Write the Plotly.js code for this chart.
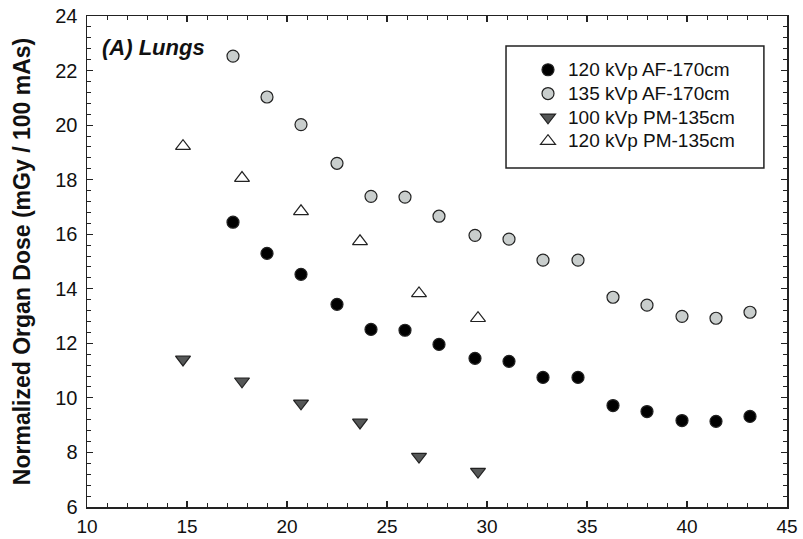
<!DOCTYPE html>
<html>
<head>
<meta charset="utf-8">
<script src="https://cdn.plot.ly/plotly-3.0.1.min.js"></script>
<style>html,body{margin:0;padding:0;background:#fff;}#chart{width:803px;height:539px;}</style>
</head>
<body>
<div id="chart"></div>
<script>
// Series names
const seriesNames = ["120 kVp AF-170cm", "135 kVp AF-170cm", "100 kVp PM-135cm", "120 kVp PM-135cm"];

// AF-170cm series (x values shared)
const xAF = [17.3, 19.0, 20.7, 22.5, 24.2, 25.9, 27.6, 29.4, 31.1, 32.8, 34.55, 36.3, 38.0, 39.75, 41.45, 43.15];
const y120AF = [16.44, 15.30, 14.53, 13.43, 12.51, 12.48, 11.96, 11.45, 11.34, 10.75, 10.75, 9.72, 9.50, 9.17, 9.14, 9.32];
const y135AF = [22.53, 21.03, 20.02, 18.60, 17.39, 17.36, 16.66, 15.96, 15.82, 15.05, 15.05, 13.69, 13.40, 12.99, 12.92, 13.14];

// PM-135cm series
const xPM = [14.8, 17.75, 20.7, 23.65, 26.6, 29.55];
const y100PM = [11.41, 10.61, 9.80, 9.10, 7.85, 7.30];
const y120PM = [19.23, 18.06, 16.84, 15.74, 13.83, 12.92];

const FONT = "Liberation Sans, Arial, Helvetica, sans-serif";
const edge = {color: "#222", width: 1.2};
const legendName = n => '<span style="font-size:19px">' + n + '</span>';

const traces = [
  {x: xAF, y: y120AF, name: legendName(seriesNames[0]), mode: "markers", type: "scatter",
   marker: {symbol: "circle", size: 12, color: "#000000", line: edge}},
  {x: xAF, y: y135AF, name: legendName(seriesNames[1]), mode: "markers", type: "scatter",
   marker: {symbol: "circle", size: 12, color: "#c9cecd", line: edge}},
  {x: xPM, y: y100PM, name: legendName(seriesNames[2]), mode: "markers", type: "scatter",
   marker: {symbol: "triangle-down", size: 13, color: "#555757", line: edge}},
  {x: xPM, y: y120PM, name: legendName(seriesNames[3]), mode: "markers", type: "scatter",
   marker: {symbol: "triangle-up", size: 13, color: "#ffffff", line: edge}}
];

const axisCommon = {
  showgrid: false, zeroline: false, showline: true, linecolor: "#222", linewidth: 1.5,
  mirror: "allticks", ticks: "inside", ticklen: 6, tickwidth: 1.2, tickcolor: "#222",
  tickfont: {family: FONT, size: 20, color: "#111"}
};

const layout = {
  width: 803, height: 539,
  margin: {l: 87, r: 16, t: 16, b: 32},
  paper_bgcolor: "#fff", plot_bgcolor: "#fff",
  showlegend: true,
  font: {family: FONT, color: "#111"},
  xaxis: Object.assign({}, axisCommon, {
    range: [10, 45], tick0: 10, dtick: 5,
    tickfont: {family: FONT, size: 19, color: "#111"},
    minor: {dtick: 1, ticks: "inside", ticklen: 4, tickcolor: "#222", tickwidth: 1},
    ticklabelstandoff: 2
  }),
  yaxis: Object.assign({}, axisCommon, {
    range: [6, 24], tick0: 6, dtick: 2,
    minor: {dtick: 0.4, ticks: "inside", ticklen: 4, tickcolor: "#222", tickwidth: 1},
    ticklabelstandoff: 4,
    title: {text: "Normalized Organ Dose (mGy / 100 mAs)", font: {family: FONT, size: 23, weight: "bold", color: "#111"}, standoff: 18}
  }),
  legend: {
    x: 0.63, y: 0.925, xanchor: "left", yanchor: "top",
    bgcolor: "rgba(0,0,0,0)", borderwidth: 0,
    font: {family: FONT, size: 16, color: "#111"},
    itemclick: false
  },
  shapes: [
    {type: "rect", xref: "paper", yref: "paper", x0: 0.5986, x1: 0.967, y0: 0.6904, y1: 0.9389,
     line: {color: "#222", width: 1.5}, fillcolor: "rgba(0,0,0,0)", layer: "below"}
  ],
  annotations: [
    {text: "<b><i>(A) Lungs</i></b>", xref: "paper", yref: "paper", x: 0.018, y: 0.935,
     xanchor: "left", yanchor: "middle", showarrow: false,
     font: {family: FONT, size: 22, color: "#111"}}
  ]
};

Plotly.newPlot("chart", traces, layout, {displayModeBar: false, staticPlot: true});
</script>
</body>
</html>
